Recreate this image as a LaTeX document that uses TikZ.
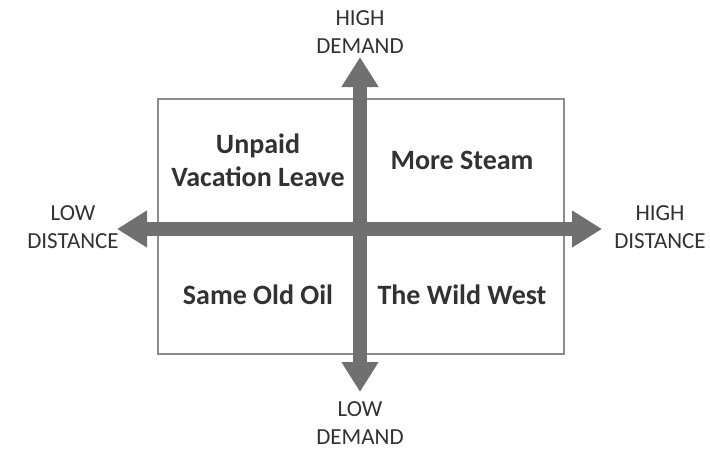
\documentclass[tikz,border=0pt]{standalone}
\usepackage{fontspec}
\setmainfont{Carlito}
\usetikzlibrary{arrows.meta}

\definecolor{axisgray}{RGB}{112,112,112}
\definecolor{framegray}{RGB}{140,140,140}
\definecolor{textgray}{RGB}{50,50,50}

\begin{document}
\begin{tikzpicture}[x=1pt, y=-1pt]
	\tikzset{ax/.style={line width=14pt, axisgray, {Triangle[width=35pt, length=30pt]}-{Triangle[width=35pt, length=30pt]}}};
	\tikzset{lbl/.style={align=center, textgray, font=\fontsize{23}{28}\selectfont}};
	\tikzset{quad/.style={align=center, textgray, font=\fontsize{28}{33}\bfseries\selectfont}};

	\useasboundingbox (0, 0) rectangle (710, 450);

	% frame of the four quadrants
	\coordinate (nw) at (158, 99);
	\coordinate (se) at (564, 354);
	\draw[framegray, line width=1.2pt] (nw) rectangle (se);

	% axis ends
	\coordinate (left) at (117, 229);
	\coordinate (right) at (602, 229);
	\coordinate (top) at (360, 57);
	\coordinate (bottom) at (360, 392);

	\draw[ax] (left) to (right);
	\draw[ax] (bottom) to (top);

	% axis labels
	\node[lbl] (hd) at (360, 32) {HIGH\\DEMAND};
	\node[lbl] (ld) at (360, 423) {LOW\\DEMAND};
	\node[lbl] (ldist) at (73, 227) {LOW\\DISTANCE};
	\node[lbl] (hdist) at (660, 227) {HIGH\\DISTANCE};

	% quadrants
	\node[quad] (unpaid) at (258, 160) {Unpaid\\Vacation Leave};
	\node[quad] (steam) at (462, 160) {More Steam};
	\node[quad] (oil) at (258, 295) {Same Old Oil};
	\node[quad] (west) at (462, 295) {The Wild West};
\end{tikzpicture}
\end{document}
